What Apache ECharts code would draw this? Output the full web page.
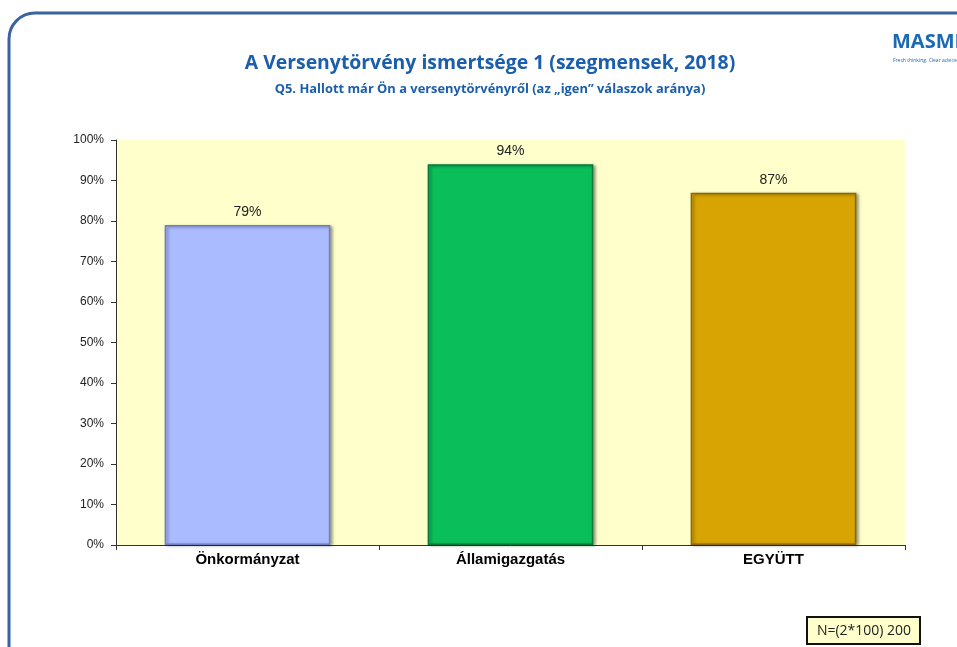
<!DOCTYPE html>
<html>
<head>
<meta charset="utf-8">
<script src="https://cdn.jsdelivr.net/npm/echarts@6/dist/echarts.min.js"></script>
<style>
  html, body { margin: 0; padding: 0; background: #fff; }
  #chart { width: 957px; height: 647px; }
</style>
</head>
<body>
<div id="chart"></div>
<script>
// adatok
var categories = ['Önkormányzat', 'Államigazgatás', 'EGYÜTT'];
var values = [79, 94, 87];
var barColors = ['#AABBFF', '#0ABF5A', '#D8A404'];
var edgeColors = ['#6F7FC0', '#057A38', '#8A6A00'];

var myChart = echarts.init(document.getElementById('chart'));

var option = {
    animation: false,
    backgroundColor: '#fff',
    title: [{
        text: 'A Versenytörvény ismertsége 1 (szegmensek, 2018)',
        left: 485,
        top: 49,
        textAlign: 'center',
        textStyle: { fontFamily: 'Open Sans', fontWeight: 'bold', fontSize: 19.4, color: '#1B5EAB' }
    }, {
        text: 'Q5. Hallott már Ön a versenytörvényről (az „igen” válaszok aránya)',
        left: 485,
        top: 78,
        textAlign: 'center',
        textStyle: { fontFamily: 'Open Sans', fontWeight: 'bold', fontSize: 12.9, color: '#1B5EAB' }
    }],
    grid: {
        left: 116,
        right: 52,
        top: 140,
        bottom: 102,
        show: true,
        backgroundColor: '#FFFFCC',
        borderWidth: 0
    },
    xAxis: {
        type: 'category',
        data: categories,
        axisLine: { lineStyle: { color: '#333', width: 1 } },
        axisTick: { show: true, length: 5, lineStyle: { color: '#333' } },
        axisLabel: {
            margin: 7,
            fontFamily: 'Arial',
            fontWeight: 'bold',
            fontSize: 15,
            color: '#000'
        }
    },
    yAxis: {
        type: 'value',
        min: 0,
        max: 100,
        interval: 10,
        axisLine: { show: true, lineStyle: { color: '#333', width: 1 } },
        axisTick: { show: true, length: 5, lineStyle: { color: '#333' } },
        splitLine: { show: false },
        axisLabel: {
            margin: 12,
            formatter: '{value}%',
            fontFamily: 'Arial',
            fontSize: 12,
            color: '#222'
        }
    },
    series: [{
        type: 'bar',
        barWidth: '63%',
        data: values.map(function (v, i) {
            return {
                value: v,
                itemStyle: {
                    color: barColors[i],
                    borderColor: edgeColors[i],
                    borderWidth: 1.5,
                    shadowColor: 'rgba(0,0,0,0.35)',
                    shadowBlur: 3,
                    shadowOffsetX: 2,
                    shadowOffsetY: 1
                }
            };
        }),
        label: {
            show: true,
            position: 'top',
            distance: 6,
            formatter: '{c}%',
            fontFamily: 'Arial',
            fontSize: 14,
            color: '#222'
        }
    }],
    graphic: [{
        type: 'rect',
        shape: { x: 9, y: 13, width: 1100, height: 800, r: 26 },
        style: { fill: null, stroke: '#3A64A0', lineWidth: 3 },
        silent: true
    }, {
        type: 'text',
        left: 892,
        top: 32,
        style: { text: 'MASMI', fontFamily: 'Open Sans', fontWeight: 'bold', fontSize: 20, fill: '#1B6AB5' }
    }, {
        type: 'text',
        left: 893,
        top: 58,
        style: { text: 'Fresh thinking. Clear advice', fontFamily: 'Open Sans', fontSize: 5, fill: '#1B6AB5' }
    }, {
        type: 'group',
        left: 806,
        top: 616,
        children: [{
            type: 'rect',
            shape: { x: 0, y: 0, width: 113, height: 27 },
            style: { fill: '#FFFFCC', stroke: '#111', lineWidth: 2 }
        }, {
            type: 'text',
            x: 57,
            y: 14,
            style: {
                text: 'N=(2*100) 200',
                fontFamily: 'Open Sans',
                fontSize: 14,
                fill: '#222',
                align: 'center',
                verticalAlign: 'middle'
            }
        }]
    }]
};

myChart.setOption(option);
</script>
</body>
</html>
